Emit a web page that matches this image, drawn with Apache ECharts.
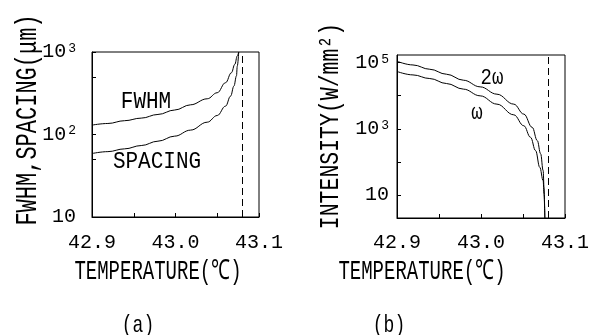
<!DOCTYPE html>
<html><head><meta charset="utf-8">
<script src="https://cdn.jsdelivr.net/npm/echarts@6/dist/echarts.min.js"></script>
<style>html,body{margin:0;padding:0;background:#fff}#c{width:593px;height:335px}</style>
</head><body><div id="c"></div>
<script>
// ---- data ----
const criticalTemp = 43.076;
// panel (a)
const tempFwhm = [42.9, 42.919, 42.939, 42.959, 42.979, 42.999, 43.018, 43.038, 43.050, 43.060, 43.067, 43.071, 43.074, 43.0757];
const fwhm     = [130, 136, 147, 158, 175, 198, 229, 271, 321, 425, 561, 708, 894, 1000];
const tempSpacing = [42.9, 42.919, 42.939, 42.959, 42.979, 42.999, 43.018, 43.038, 43.050, 43.060, 43.066, 43.070, 43.073, 43.074, 43.0757];
const spacing     = [58.8, 62, 67, 73.5, 83, 95.5, 113, 141, 170, 221, 292, 387, 512, 676, 1000];
// panel (b)
const temp2w = [42.9, 42.919, 42.939, 42.959, 42.979, 42.999, 43.019, 43.039, 43.051, 43.061, 43.067, 43.071, 43.074, 43.075, 43.076];
const int2w  = [110000, 85000, 63000, 44500, 29400, 18500, 11100, 5550, 2770, 1100, 440, 175, 54, 17, 2];
const tempW  = [42.9, 42.919, 42.939, 42.959, 42.979, 42.999, 43.019, 43.039, 43.051, 43.059, 43.065, 43.070, 43.074, 43.075, 43.076];
const intW   = [54000, 42500, 33000, 23300, 15800, 9900, 5550, 2640, 1230, 550, 218, 68, 27, 10.7, 2];
// ticks
const yTicksA = [10, 50, 100, 500, 1000];
const yLabelsA = [10, 100, 1000];
const yTicksB = [10, 100, 1000, 10000, 100000];
const yLabelsB = [10, 1000, 100000];
const texts = {
  xTitle: 'TEMPERATURE(℃)',
  yTitleA: 'FWHM,SPACING(μm)',
  yTitleB: 'INTENSITY(W/mm²)',
  fwhm: 'FWHM', spacing: 'SPACING', w2: '2ω', w: 'ω', a: '(a)', b: '(b)'
};

const FONT = 'Liberation Mono';
const zip = (xs, ys) => xs.map((x, i) => [x, ys[i]]);

function xFmt(v) {
  const t = v * 10;
  if (Math.abs(t - Math.round(t)) < 1e-6) return v.toFixed(1);
  return '';
}
function yFmt(v) {
  const e = Math.round(Math.log10(v));
  return e === 1 ? '10' : '10{s|' + e + '}';
}

function xAxis(gi, margin) {
  return {
    gridIndex: gi, type: 'value', min: 42.9, max: 43.1, interval: 0.05,
    axisLine: {show: true, lineStyle: {color: '#000', width: 1}},
    axisTick: {show: true, inside: true, length: 4, lineStyle: {color: '#000'}},
    splitLine: {show: false},
    axisLabel: {formatter: xFmt, color: '#000', fontFamily: FONT, fontSize: 20, margin: margin,
                showMinLabel: true, showMaxLabel: true, hideOverlap: false}
  };
}
function yAxis(gi, min, max, ticks, labels, margin) {
  return {
    gridIndex: gi, type: 'log', logBase: 10, min: min, max: max,
    axisLine: {show: true, lineStyle: {color: '#000', width: 1}},
    axisTick: {show: true, inside: true, length: 4, lineStyle: {color: '#000'}, customValues: ticks},
    splitLine: {show: false},
    minorTick: {show: false},
    axisLabel: {customValues: labels, formatter: yFmt, color: '#000', fontFamily: FONT, fontSize: 20, margin: margin,
                rich: {s: {fontFamily: FONT, fontSize: 13, color: '#000', verticalAlign: 'top', padding: [0, 0, 0, 2]}}}
  };
}
function line(xi, data) {
  return {
    type: 'line', xAxisIndex: xi, yAxisIndex: xi, data: data, showSymbol: false, symbol: 'none',
    smooth: 0.4, smoothMonotone: 'x', clip: true,
    lineStyle: {color: '#000', width: 1}, silent: true, animation: false
  };
}
function dashLine() {
  return {symbol: 'none', silent: true, label: {show: false}, animation: false,
          lineStyle: {type: [7, 4], color: '#000', width: 1}, data: [{xAxis: criticalTemp}]};
}
function txt(x, y, text, size, sy, rot) {
  return {type: 'text', x: x, y: y, scaleY: sy, rotation: rot || 0, silent: true,
          style: {text: text, font: size + 'px "' + FONT + '"', fill: '#000',
                  textAlign: 'center', textVerticalAlign: 'middle', verticalAlign: 'middle'}};
}

const sA = line(0, zip(tempSpacing, spacing));
sA.markLine = dashLine();
const sB = line(1, zip(tempW, intW));
sB.markLine = dashLine();

const option = {
  animation: false,
  backgroundColor: '#fff',
  grid: [
    {left: 92, top: 52, width: 167, height: 165, show: true, borderColor: '#000', borderWidth: 1, backgroundColor: 'transparent'},
    {left: 397, top: 55, width: 168, height: 163, show: true, borderColor: '#000', borderWidth: 1, backgroundColor: 'transparent'}
  ],
  xAxis: [xAxis(0, 16), xAxis(1, 15)],
  yAxis: [yAxis(0, 10, 1000, yTicksA, yLabelsA, 16), yAxis(1, 2, 170000, yTicksB, yLabelsB, 8)],
  series: [line(0, zip(tempFwhm, fwhm)), sA, line(1, zip(temp2w, int2w)), sB],
  graphic: [
    txt(158, 272, texts.xTitle, 19, 1.45),
    txt(422, 272, texts.xTitle, 19, 1.45),
    txt(28, 120, texts.yTitleA, 22, 1.3, Math.PI / 2),
    txt(331, 126, texts.yTitleB, 21.5, 1.3, Math.PI / 2),
    txt(146, 102, texts.fwhm, 21, 1.1),
    txt(157, 162, texts.spacing, 21, 1.1),
    txt(492, 78, texts.w2, 19, 1.2),
    txt(477, 113, texts.w, 19, 1.2),
    txt(138, 326, texts.a, 18, 1.3),
    txt(389, 326, texts.b, 18, 1.3)
  ]
};
const chart = echarts.init(document.getElementById('c'), null, {renderer: 'canvas'});
chart.setOption(option);
</script></body></html>
